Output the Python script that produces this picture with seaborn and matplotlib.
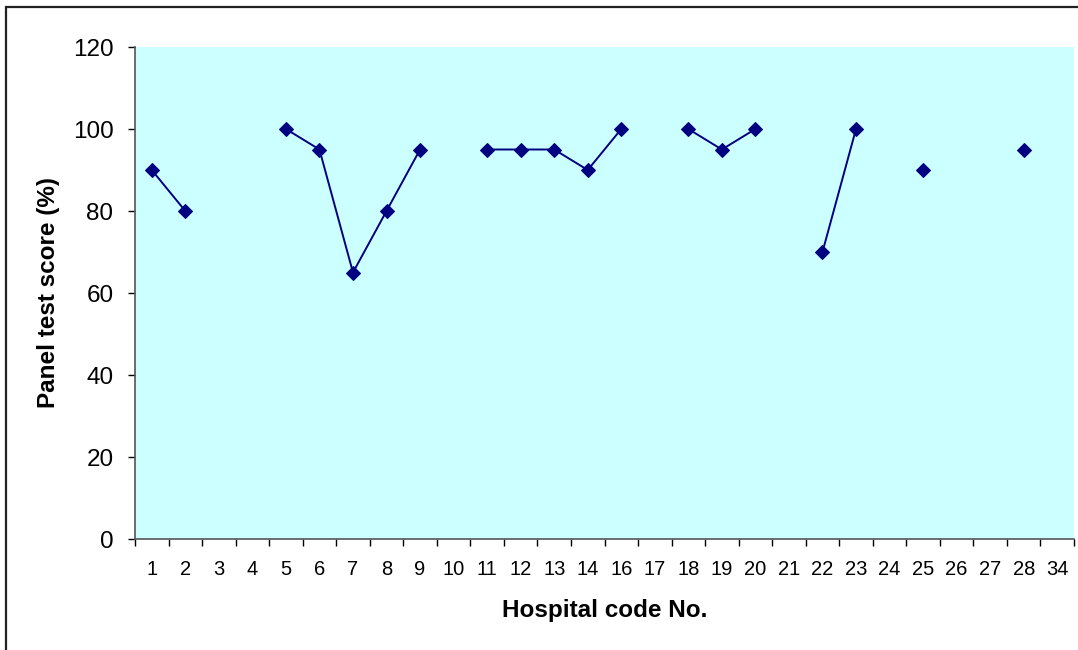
import numpy as np
import pandas as pd
import matplotlib
matplotlib.use("Agg")
import matplotlib.pyplot as plt
from matplotlib.patches import Rectangle
import seaborn as sns

hospital_codes = ["1", "2", "3", "4", "5", "6", "7", "8", "9", "10", "11", "12", "13", "14",
                  "16", "17", "18", "19", "20", "21", "22", "23", "24", "25", "26", "27", "28", "34"]
scores = [90, 80, np.nan, np.nan, 100, 95, 65, 80, 95, np.nan, 95, 95, 95, 90,
          100, np.nan, 100, 95, 100, np.nan, 70, 100, np.nan, 90, np.nan, np.nan, 95, np.nan]
y_ticks = [0, 20, 40, 60, 80, 100, 120]

sns.set_style("white")
plt.rcParams['font.family'] = ['Liberation Sans', 'DejaVu Sans']
plt.rcParams['text.color'] = 'black'
plt.rcParams['axes.labelcolor'] = 'black'
plt.rcParams['xtick.color'] = 'black'
plt.rcParams['ytick.color'] = 'black'

df = pd.DataFrame({"pos": np.arange(len(hospital_codes)), "code": hospital_codes, "score": scores})
# contiguous runs of non-missing values become separate line segments
seg = df["score"].isna().cumsum()
df["segment"] = seg
df = df.dropna(subset=["score"])

fig = plt.figure(figsize=(10.78, 6.5), dpi=100)
W, H = 1078, 650
ax = fig.add_axes([135 / W, (H - 539) / H, (1074 - 135) / W, (539 - 47) / H])
ax.set_facecolor("#CCFFFF")

sns.lineplot(data=df, x="pos", y="score", units="segment", estimator=None,
             color="#000080", linewidth=1.4, marker="D", markersize=7.5,
             markeredgecolor="#000080", ax=ax, legend=False)

n = len(hospital_codes)
ax.set_xlim(-0.5, n - 0.5)
ax.set_ylim(0, 120)
ax.set_yticks(y_ticks)
ax.set_yticklabels([str(v) for v in y_ticks], fontsize=17.5, color="black")
ax.set_xticks(np.arange(n))
ax.set_xticklabels(hospital_codes, fontsize=14.5, color="black")
ax.tick_params(axis="x", length=0, pad=15)
ax.set_xticks(np.arange(n + 1) - 0.5, minor=True)
ax.tick_params(axis="x", which="minor", length=5, width=1, color="black", direction="out")
ax.tick_params(axis="y", length=5, width=1, color="black", direction="out", pad=10.5)
ax.xaxis.set_ticks_position("bottom")
ax.yaxis.set_ticks_position("left")

for s in ["top", "right"]:
    ax.spines[s].set_visible(False)
for s in ["left", "bottom"]:
    ax.spines[s].set_color("#555555")
    ax.spines[s].set_linewidth(1.2)

ax.set_xlabel("Hospital code No.", fontsize=17.5, fontweight="bold", color="black")
ax.set_ylabel("Panel test score (%)", fontsize=17.5, fontweight="bold", color="black")
ax.xaxis.set_label_coords(0.5, -(611 - 539) / (539 - 47), transform=ax.transAxes)
ax.yaxis.set_label_coords((49 - 135) / (1074 - 135), 0.5)
ax.xaxis.label.set_va("center")
ax.yaxis.label.set_va("center")

border = Rectangle((6 / W, -0.1), 1.2, (H - 7) / H + 0.1, transform=fig.transFigure,
                   fill=False, edgecolor="#222222", linewidth=1.6, clip_on=False)
fig.patches.append(border)

fig.savefig("out.png", dpi=100, facecolor="white")
